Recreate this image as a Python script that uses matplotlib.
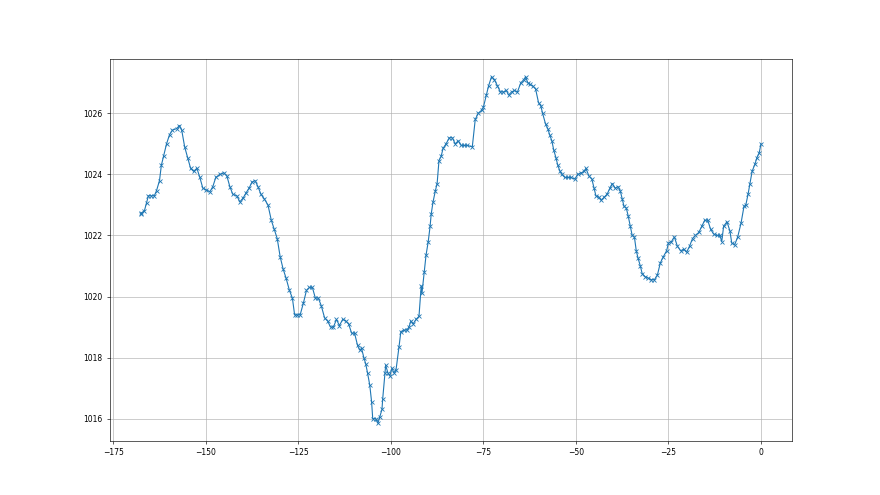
import matplotlib.pyplot as plt

# hours relative to now, pressure readings (hPa)
hours = [
    -167.5, -167.4, -166.6, -166.0, -165.5, -164.7, -163.9, -163.3, -162.5, -162.0,
    -161.4, -160.6, -159.8, -159.0, -157.9, -157.1, -156.5, -155.7, -154.9, -154.1,
    -153.3, -152.4, -151.6, -150.8, -150.0, -148.9, -148.1, -147.3, -146.2, -145.1,
    -144.3, -143.5, -142.7, -141.6, -140.8, -139.9, -139.1, -138.3, -137.5, -136.7,
    -135.9, -135.1, -134.2, -133.2, -132.3, -131.5, -130.7, -129.9, -129.1, -128.3,
    -127.4, -126.6, -126.0, -125.3, -124.5, -123.6, -122.8, -122.0, -121.2, -120.4,
    -119.6, -118.8, -117.9, -117.1, -116.3, -115.5, -114.7, -113.9, -113.0, -112.2,
    -111.4, -110.6, -109.8, -109.0, -108.4, -107.9, -107.3, -106.8, -106.3, -105.7,
    -105.2, -104.9, -104.1, -103.5, -103.0, -102.4, -102.2, -101.6, -101.4, -100.8,
    -100.3, -99.7, -99.2, -98.6, -97.8, -97.3, -96.5, -95.7, -95.1, -94.6,
    -94.0, -93.2, -92.4, -91.8, -91.6, -91.0, -90.5, -89.9, -89.4, -89.1,
    -88.6, -88.0, -87.5, -87.0, -86.4, -85.9, -85.1, -84.2, -83.4, -82.6,
    -81.8, -81.0, -80.2, -79.3, -78.0, -77.2, -76.4, -75.5, -75.0, -74.2,
    -73.6, -72.8, -72.0, -71.2, -70.4, -69.6, -68.8, -68.2, -67.4, -66.6,
    -65.8, -64.9, -64.1, -63.6, -63.0, -62.5, -61.7, -60.9, -60.1, -59.5,
    -59.0, -58.2, -57.6, -57.1, -56.5, -56.0, -55.4, -54.9, -54.3, -53.8,
    -53.0, -52.2, -51.4, -50.3, -49.5, -48.6, -47.8, -47.3, -46.5, -45.7,
    -45.1, -44.6, -43.8, -43.2, -42.4, -41.6, -40.8, -40.2, -39.4, -38.6,
    -38.0, -37.5, -37.0, -36.4, -35.9, -35.3, -34.8, -34.2, -33.7, -33.2,
    -32.6, -32.1, -31.3, -30.4, -29.6, -28.8, -28.0, -27.2, -26.4, -25.5,
    -25.0, -24.2, -23.4, -22.6, -21.7, -20.9, -20.1, -19.3, -18.5, -17.7,
    -16.8, -16.0, -15.2, -14.4, -13.6, -12.8, -12.0, -11.1, -10.6, -10.1,
    -9.2, -8.4, -7.9, -7.1, -6.3, -5.4, -4.6, -4.1, -3.5, -3.0,
    -2.4, -1.6, -1.1, -0.5, 0.0,
]

pressure = [
    1022.70, 1022.74, 1022.80, 1023.07, 1023.30, 1023.30, 1023.30, 1023.47, 1023.80, 1024.30,
    1024.60, 1025.00, 1025.30, 1025.45, 1025.50, 1025.60, 1025.45, 1024.90, 1024.55, 1024.20,
    1024.10, 1024.20, 1023.90, 1023.55, 1023.50, 1023.43, 1023.60, 1023.90, 1024.00, 1024.05,
    1023.95, 1023.60, 1023.35, 1023.30, 1023.10, 1023.23, 1023.40, 1023.55, 1023.75, 1023.80,
    1023.60, 1023.35, 1023.20, 1023.00, 1022.50, 1022.20, 1021.90, 1021.30, 1020.90, 1020.60,
    1020.20, 1019.95, 1019.40, 1019.40, 1019.40, 1019.80, 1020.20, 1020.30, 1020.30, 1019.95,
    1019.95, 1019.70, 1019.30, 1019.20, 1019.00, 1019.00, 1019.25, 1019.05, 1019.25, 1019.20,
    1019.10, 1018.80, 1018.80, 1018.40, 1018.25, 1018.30, 1018.00, 1017.80, 1017.50, 1017.10,
    1016.55, 1016.00, 1016.00, 1015.85, 1016.05, 1016.30, 1016.65, 1017.50, 1017.75, 1017.50,
    1017.40, 1017.65, 1017.50, 1017.60, 1018.35, 1018.85, 1018.90, 1018.90, 1019.00, 1019.20,
    1019.10, 1019.25, 1019.35, 1020.35, 1020.10, 1020.80, 1021.35, 1021.80, 1022.30, 1022.70,
    1023.10, 1023.45, 1023.70, 1024.45, 1024.60, 1024.85, 1025.00, 1025.20, 1025.20, 1025.00,
    1025.10, 1024.95, 1024.95, 1024.95, 1024.90, 1025.80, 1026.00, 1026.10, 1026.20, 1026.60,
    1026.90, 1027.20, 1027.10, 1026.90, 1026.70, 1026.70, 1026.75, 1026.60, 1026.70, 1026.75,
    1026.70, 1027.00, 1027.10, 1027.20, 1027.00, 1026.95, 1026.90, 1026.80, 1026.35, 1026.25,
    1026.00, 1025.65, 1025.50, 1025.30, 1025.10, 1024.80, 1024.55, 1024.30, 1024.10, 1024.00,
    1023.90, 1023.90, 1023.90, 1023.85, 1024.00, 1024.05, 1024.10, 1024.20, 1023.95, 1023.85,
    1023.55, 1023.30, 1023.25, 1023.15, 1023.25, 1023.35, 1023.55, 1023.70, 1023.55, 1023.60,
    1023.45, 1023.20, 1022.95, 1022.90, 1022.65, 1022.30, 1022.00, 1021.95, 1021.50, 1021.25,
    1021.00, 1020.75, 1020.65, 1020.60, 1020.55, 1020.55, 1020.70, 1021.10, 1021.30, 1021.50,
    1021.75, 1021.80, 1021.95, 1021.65, 1021.50, 1021.55, 1021.45, 1021.65, 1021.90, 1022.00,
    1022.10, 1022.30, 1022.50, 1022.50, 1022.20, 1022.05, 1022.00, 1022.00, 1021.80, 1022.30,
    1022.45, 1022.15, 1021.75, 1021.70, 1021.95, 1022.40, 1022.95, 1023.00, 1023.35, 1023.70,
    1024.10, 1024.35, 1024.55, 1024.70, 1025.00,
]

plt.rcParams["font.size"] = 5.5

fig, ax = plt.subplots(figsize=(8.8, 4.95), dpi=100)
ax.plot(hours, pressure, marker="x", color="#1f77b4",
        linewidth=0.8, markersize=3.3, markeredgewidth=0.6)
ax.grid(True, color="#b0b0b0", linewidth=0.45)
ax.tick_params(width=0.45, length=2)
for spine in ax.spines.values():
    spine.set_linewidth(0.45)

plt.savefig("out.png", dpi=100)
